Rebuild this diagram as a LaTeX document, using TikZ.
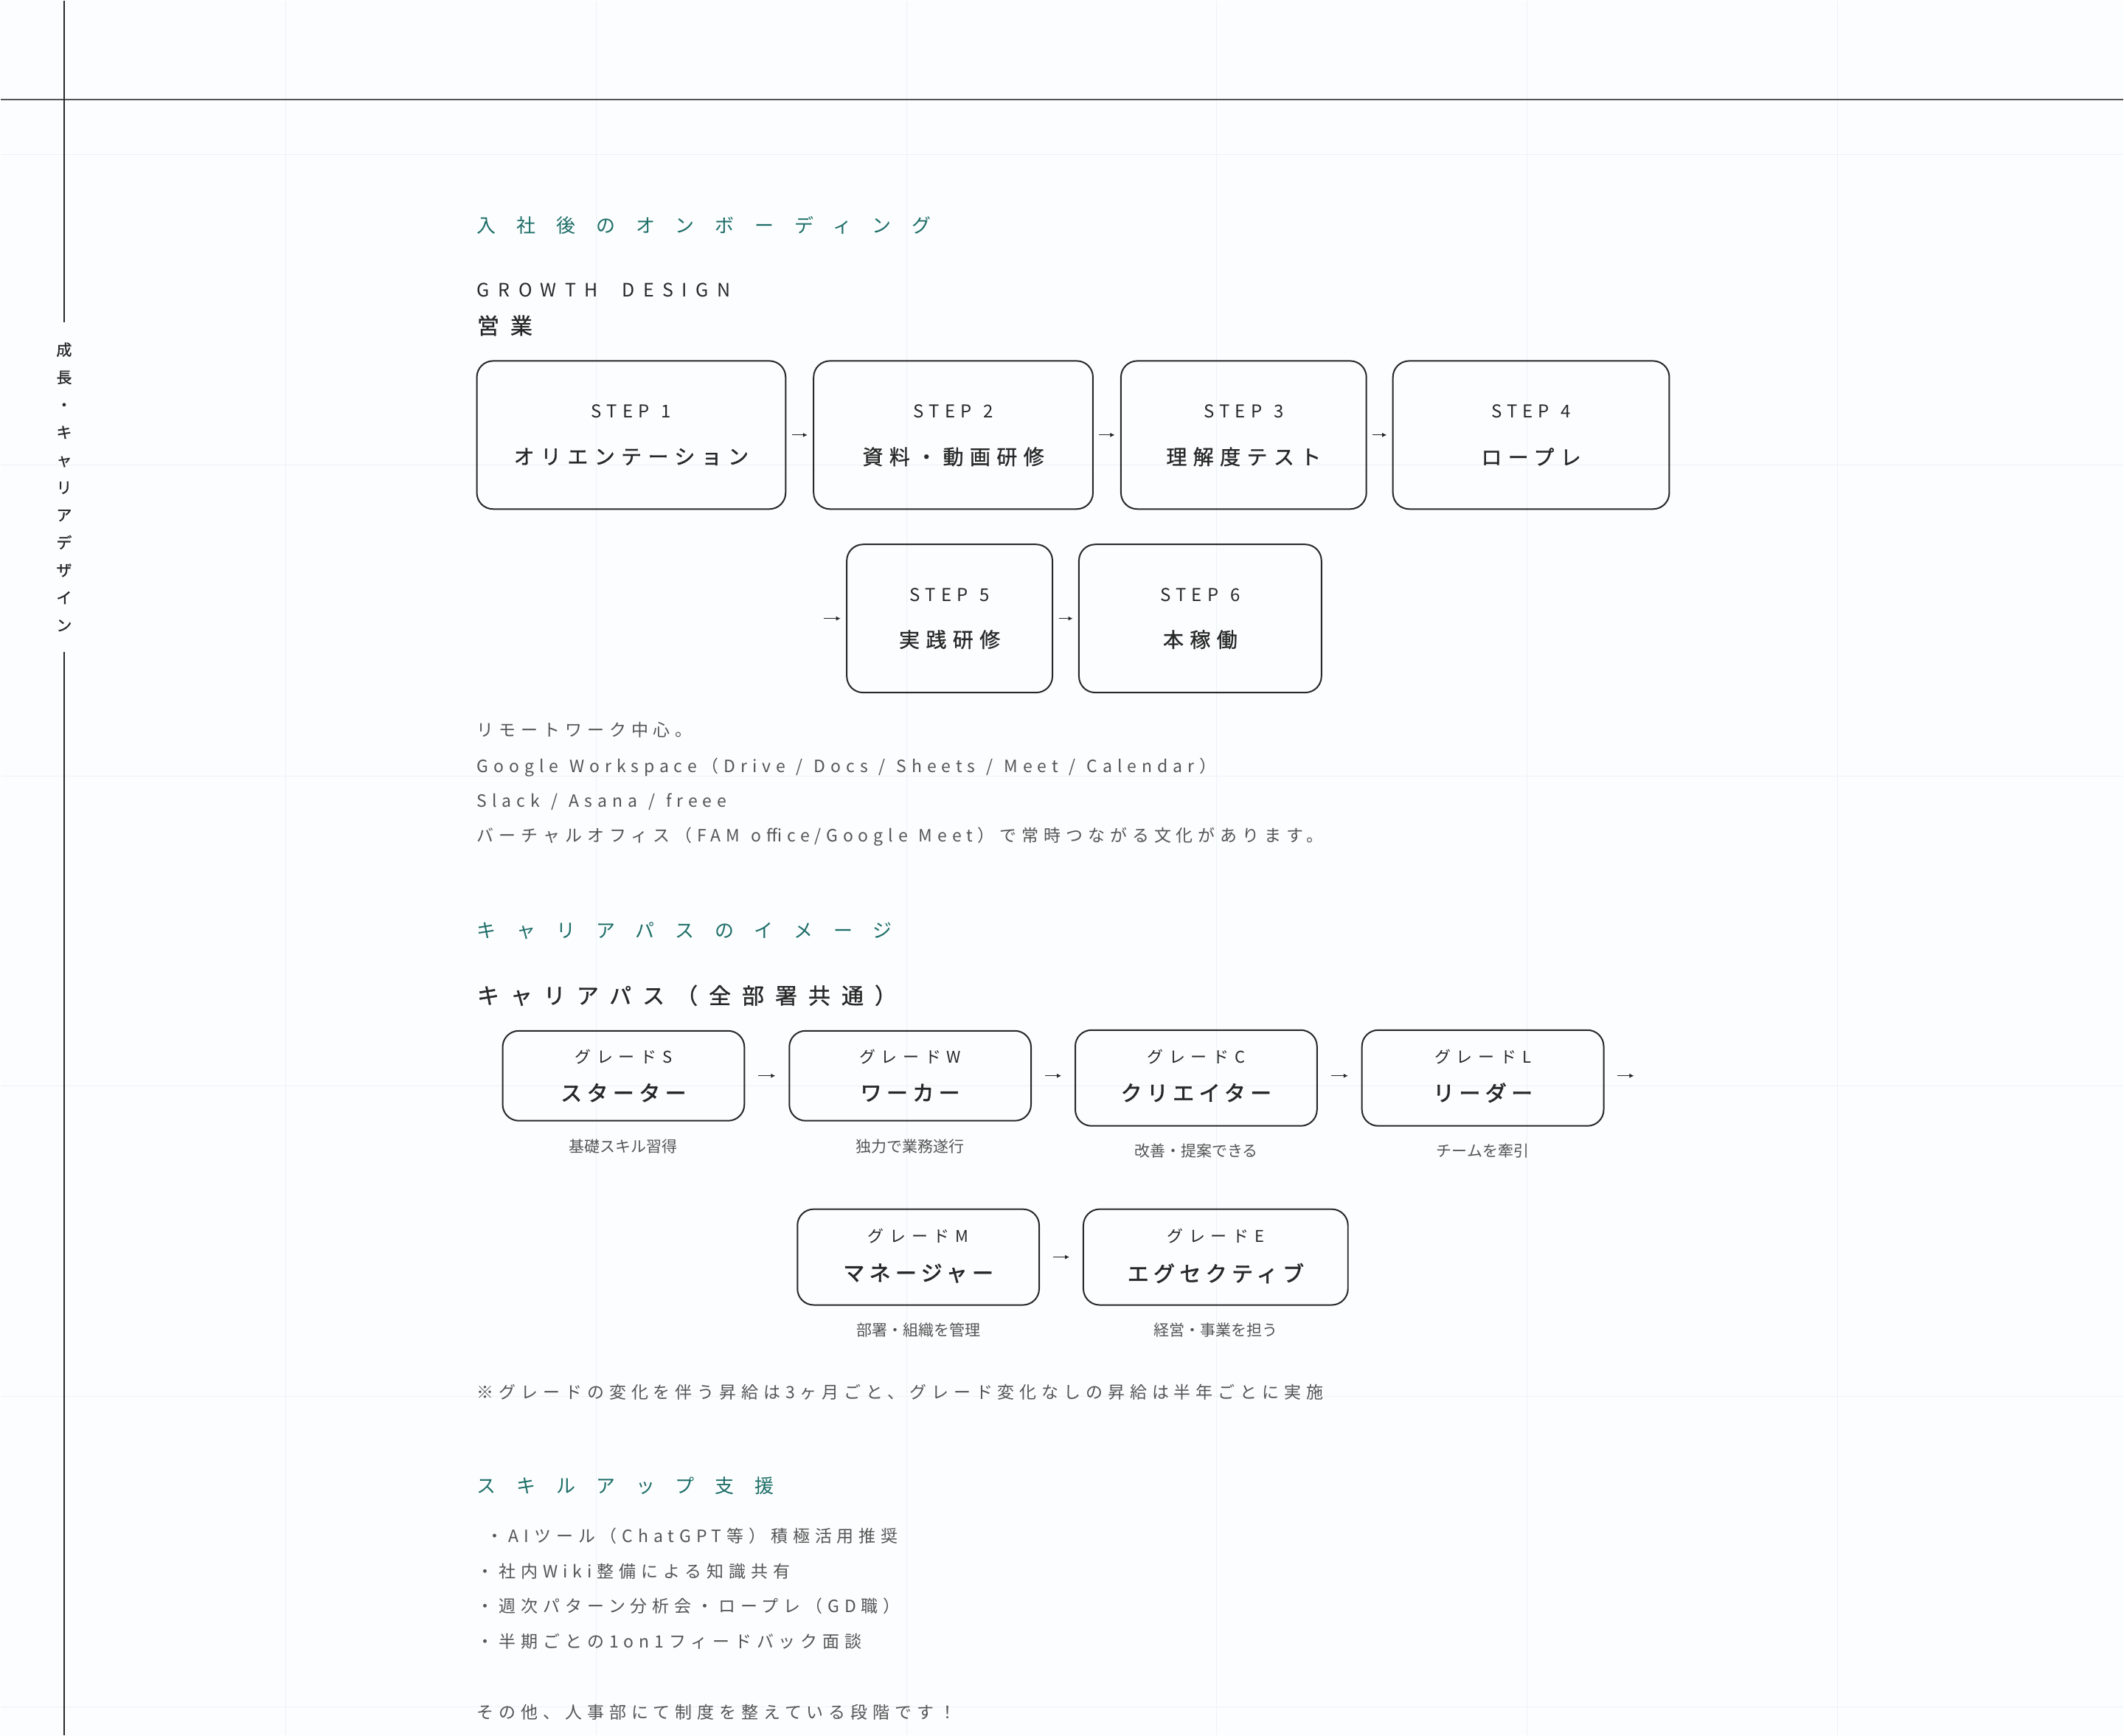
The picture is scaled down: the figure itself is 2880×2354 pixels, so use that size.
\documentclass[tikz,border=0pt]{standalone}
\usepackage{fontspec}
\setmainfont{Noto Sans CJK JP}
\newfontfamily\headfont[LetterSpace=107]{Noto Sans CJK JP}
\newfontfamily\latinwide[LetterSpace=46,WordSpace=1.9]{Noto Sans CJK JP}
\newfontfamily\subheadfont[LetterSpace=50,FakeBold=1]{Noto Sans CJK JP}
\newfontfamily\sidefont[FakeBold=1]{Noto Sans CJK JP}
\newfontfamily\tagfont[LetterSpace=30,WordSpace=3]{Noto Sans CJK JP}
\newfontfamily\namefont[LetterSpace=30,FakeBold=1]{Noto Sans CJK JP}
\newfontfamily\bodyfont[LetterSpace=30,WordSpace=1.25]{Noto Sans CJK JP}
\newfontfamily\gradetagfont[LetterSpace=35]{Noto Sans CJK JP}
\newfontfamily\gradefont[LetterSpace=22,FakeBold=2]{Noto Sans CJK JP}
\usetikzlibrary{arrows.meta}
\definecolor{paper}{RGB}{251,253,254}
\definecolor{gridtone}{RGB}{236,243,245}
\definecolor{ink}{RGB}{40,40,40}
\definecolor{softink}{RGB}{85,85,85}
\definecolor{heading}{RGB}{30,110,104}
\tikzset{
  flow/.style={-{Latex[length=3pt,width=3pt]},line width=.5pt,draw=ink,
    shorten <=3.75pt,shorten >=3.75pt},
  grade flow/.style={flow,shorten <=9pt,shorten >=9pt},
  stepbox/.style={draw=ink,line width=1pt,rounded corners=11pt,
    minimum height=100.5pt},
  gradebox/.style={draw=ink,line width=1pt,rounded corners=11pt,
    minimum width=164pt,minimum height=61pt},
  headtext/.style={anchor=west,text=heading,font=\headfont\fontsize{13}{15}\selectfont},
  subhead/.style={anchor=west,text=ink,font=\subheadfont\fontsize{15}{18}\selectfont},
  steptag/.style={text=ink,font=\tagfont\fontsize{12}{14}\selectfont},
  stepname/.style={text=ink,font=\namefont\fontsize{14}{17}\selectfont},
  gradetag/.style={text=ink,font=\gradetagfont\fontsize{11}{13}\selectfont},
  gradename/.style={text=ink,font=\gradefont\fontsize{14.5}{17}\selectfont},
  gradenote/.style={text=softink,font=\fontsize{10.5}{12}\selectfont},
  bodytext/.style={anchor=west,text=softink,font=\bodyfont\fontsize{11.5}{14}\selectfont},
  rule/.style={draw=ink,line width=.75pt}
}
\begin{document}
\begin{tikzpicture}[x=0.5pt,y=-0.5pt,inner sep=0pt]
  % page and faint grid
  \fill[paper] (0,0) rectangle (2880,2354);
  \foreach \gx in {387,808,1229,1650,2071,2492}
    \draw[gridtone,line width=.5pt] (\gx,0) -- (\gx,2354);
  \foreach \gy in {209,630,1052,1473,1894,2315}
    \draw[gridtone,line width=.5pt] (0,\gy) -- (2880,\gy);

  % side rule and vertical title
  \draw[draw=softink,line width=1pt] (0,134.5) -- (2880,134.5);
  \node[text=ink,align=center,font=\sidefont\fontsize{10.5}{18.7}\selectfont] (sidetitle) at (86,660)
    {成\\長\\・\\キ\\ャ\\リ\\ア\\デ\\ザ\\イ\\ン};
  \draw[rule] (86,0) -- (86,437);
  \draw[rule] (86,884) -- (86,2354);

  % onboarding
  \node[headtext] (onboard) at (646,305) {入社後のオンボーディング};
  \node[anchor=west,text=ink,font=\latinwide\fontsize{12.5}{15}\selectfont] (growth) at (646,393) {GROWTH DESIGN};
  \node[subhead] (sales) at (646,441) {営業};

  \node[stepbox,minimum width=209.5pt] (s1) at (855.5,589.5) {};
  \node[stepbox,minimum width=189.5pt] (s2) at (1292.5,589.5) {};
  \node[stepbox,minimum width=166.5pt] (s3) at (1686.5,589.5) {};
  \node[stepbox,minimum width=187.5pt] (s4) at (2076.5,589.5) {};
  \node[stepbox,minimum width=139.5pt] (s5) at (1287.5,838.5) {};
  \node[stepbox,minimum width=164.5pt] (s6) at (1627.5,838.5) {};

  \node[steptag] (t1) at (855.5,557) {STEP 1};
  \node[stepname] (n1) at (855.5,619) {オリエンテーション};
  \node[steptag] (t2) at (1292.5,557) {STEP 2};
  \node[stepname] (n2) at (1292.5,619) {資料・動画研修};
  \node[steptag] (t3) at (1686.5,557) {STEP 3};
  \node[stepname] (n3) at (1686.5,619) {理解度テスト};
  \node[steptag] (t4) at (2076.5,557) {STEP 4};
  \node[stepname] (n4) at (2076.5,619) {ロープレ};
  \node[steptag] (t5) at (1287.5,807) {STEP 5};
  \node[stepname] (n5) at (1287.5,867) {実践研修};
  \node[steptag] (t6) at (1627.5,807) {STEP 6};
  \node[stepname] (n6) at (1627.5,867) {本稼働};

  \coordinate (lead5) at (1117,838.5);
  \draw[flow] (s1) -- (s2);
  \draw[flow] (s2) -- (s3);
  \draw[flow] (s3) -- (s4);
  \draw[flow,shorten <=0pt] (lead5) -- (s5);
  \draw[flow] (s5) -- (s6);

  \node[bodytext] (remote) at (646,990) {リモートワーク中心。};
  \node[bodytext] (gws) at (646,1040) {Google Workspace（Drive / Docs / Sheets / Meet / Calendar）};
  \node[bodytext] (tools) at (646,1087) {Slack / Asana / freee};
  \node[bodytext] (office) at (646,1135) {バーチャルオフィス（FAM office/Google Meet）で常時つながる文化があります。};

  % career path
  \node[headtext] (career) at (646,1262) {キャリアパスのイメージ};
  \node[subhead] (common) at (646,1350) {キャリアパス（全部署共通）};

  \node[gradebox] (gS) at (845,1459) {};
  \node[gradebox] (gW) at (1234,1459) {};
  \node[gradebox,minimum height=65pt] (gC) at (1622,1462) {};
  \node[gradebox,minimum height=65pt] (gL) at (2011,1462) {};
  \node[gradebox,minimum height=65pt] (gM) at (1245,1705) {};
  \node[gradebox,minimum width=179.5pt,minimum height=65pt] (gE) at (1648.5,1705) {};

  \node[gradetag] (tS) at (845,1433) {グレードS};
  \node[gradename] (nS) at (845,1482) {スターター};
  \node[gradenote] (dS) at (845,1555) {基礎スキル習得};
  \node[gradetag] (tW) at (1234,1433) {グレードW};
  \node[gradename] (nW) at (1234,1482) {ワーカー};
  \node[gradenote] (dW) at (1234,1555) {独力で業務遂行};
  \node[gradetag] (tC) at (1622,1433) {グレードC};
  \node[gradename] (nC) at (1622,1482) {クリエイター};
  \node[gradenote] (dC) at (1622,1561) {改善・提案できる};
  \node[gradetag] (tL) at (2011,1433) {グレードL};
  \node[gradename] (nL) at (2011,1482) {リーダー};
  \node[gradenote] (dL) at (2011,1561) {チームを牽引};
  \node[gradetag] (tM) at (1245,1676) {グレードM};
  \node[gradename] (nM) at (1245,1727) {マネージャー};
  \node[gradenote] (dM) at (1245,1804) {部署・組織を管理};
  \node[gradetag] (tE) at (1648.5,1676) {グレードE};
  \node[gradename] (nE) at (1648.5,1727) {エグセクティブ};
  \node[gradenote] (dE) at (1648.5,1804) {経営・事業を担う};

  \coordinate (gnext) at (2216,1459);
  \draw[grade flow] (gS) -- (gW);
  \draw[grade flow] (gW.east) -- (gW.east -| gC.west);
  \draw[grade flow] (gC.east |- gS.east) -- (gL.west |- gS.east);
  \draw[grade flow,shorten >=0pt] (gL.east |- gnext) -- (gnext);
  \draw[grade flow] (gM) -- (gE);

  \node[bodytext] (raise) at (646,1888) {※グレードの変化を伴う昇給は3ヶ月ごと、グレード変化なしの昇給は半年ごとに実施};

  % skill-up
  \node[headtext] (skill) at (646,2015) {スキルアップ支援};
  \node[bodytext] (b1) at (659,2083) {・AIツール（ChatGPT等）積極活用推奨};
  \node[bodytext] (b2) at (646,2132) {・社内Wiki整備による知識共有};
  \node[bodytext] (b3) at (646,2179) {・週次パターン分析会・ロープレ（GD職）};
  \node[bodytext] (b4) at (646,2227) {・半期ごとの1on1フィードバック面談};
  \node[bodytext] (others) at (646,2323) {その他、人事部にて制度を整えている段階です！};
\end{tikzpicture}
\end{document}
